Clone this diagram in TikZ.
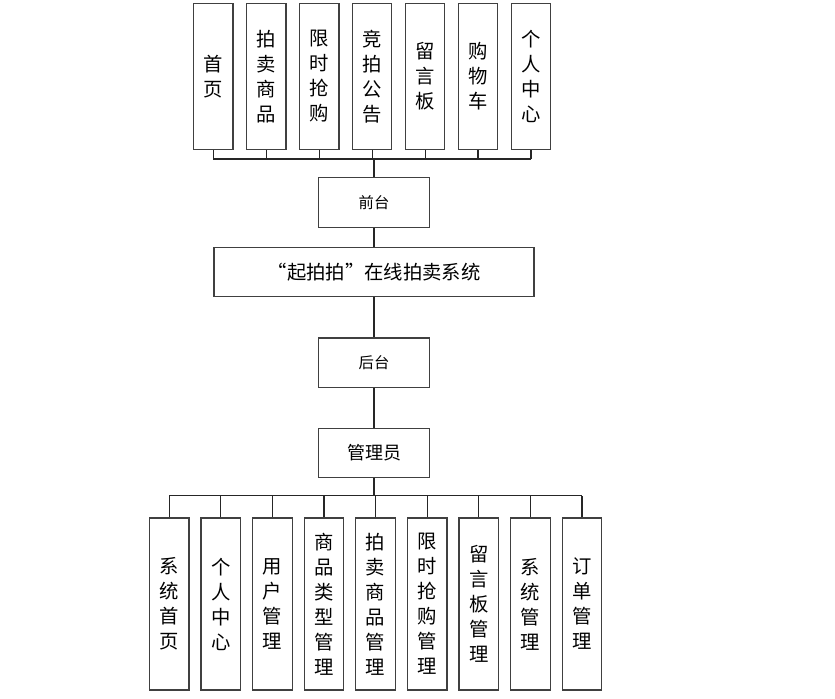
\documentclass[tikz,border=0pt]{standalone}
\usepackage{fontspec}
\setmainfont{Noto Sans CJK SC}
\usetikzlibrary{positioning}
\tikzset{
  col/.style={draw=black!75, line width=0.9pt, minimum width=29.6pt, minimum height=#1,
              inner sep=0pt, align=center, font=\fontsize{14.5}{18.75}\selectfont},
  col/.default=110pt,
  mid/.style={draw=black!75, line width=0.9pt, minimum width=83pt, minimum height=37pt,
              inner sep=0pt, font=\fontsize{11.5}{14}\selectfont},
  wire/.style={draw=black!85, line width=0.9pt}
}
\begin{document}
\begin{tikzpicture}[x=0.75pt, y=-0.75pt]
\useasboundingbox (0,0) rectangle (835,699);
% top row: front-end pages
\foreach \t [count=\i] in {{首\\页},{拍\\卖\\商\\品},{限\\时\\抢\\购},{竞\\拍\\公\\告},
                           {留\\言\\板},{购\\物\\车},{个\\人\\中\\心}}
  \node[col] (t\i) at ({160.35+52.95*\i},76.5) {\t};
% middle column
\node[mid] (front) at (374,202.5) {前台};
\node[mid, minimum width=240pt, font=\fontsize{14.5}{17}\selectfont] (sys) at (374,272) {“起拍拍”在线拍卖系统};
\node[mid] (back) at (374,362.7) {后台};
\node[mid, font=\fontsize{13.5}{16}\selectfont] (admin) at (374,452.8) {管理员};
% bottom row: admin modules
\foreach \t [count=\i] in {{系\\统\\首\\页},{个\\人\\中\\心},{用\\户\\管\\理},{商\\品\\类\\型\\管\\理},
                           {拍\\卖\\商\\品\\管\\理},{限\\时\\抢\\购\\管\\理},{留\\言\\板\\管\\理},
                           {系\\统\\管\\理},{订\\单\\管\\理}}
  \node[col=129pt] (b\i) at ({117.6+51.6*\i},604) {\t};
% top bus
\coordinate (tbus) at (374,159);
\foreach \i in {1,...,7} \draw[wire] (t\i.south) -- (t\i.south |- tbus);
\draw[wire] (t1.south |- tbus) -- (t7.south |- tbus);
\draw[wire] (tbus) -- (front.north);
% spine
\draw[wire] (front) -- (sys);
\draw[wire] (sys) -- (back);
\draw[wire] (back) -- (admin);
% bottom bus
\coordinate (bbus) at (374,495.7);
\draw[wire] (admin.south) -- (bbus);
\foreach \i in {1,...,9} \draw[wire] (b\i.north) -- (b\i.north |- bbus);
\draw[wire] (b1.north |- bbus) -- (b9.north |- bbus);
\end{tikzpicture}
\end{document}
